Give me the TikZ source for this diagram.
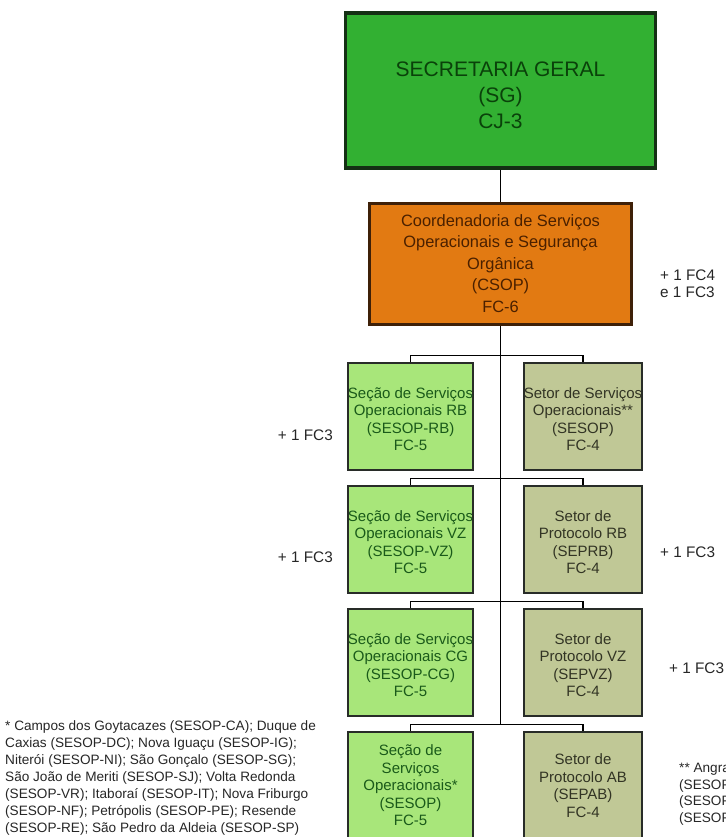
\documentclass[tikz,border=0pt]{standalone}
\usepackage{fontspec}
\setmainfont{Liberation Sans}
\definecolor{sgfill}{RGB}{50,176,50}
\definecolor{sgline}{RGB}{20,48,20}
\definecolor{sgtext}{RGB}{10,66,10}
\definecolor{cofill}{RGB}{226,122,18}
\definecolor{coline}{RGB}{62,32,8}
\definecolor{cotext}{RGB}{74,32,0}
\definecolor{lgfill}{RGB}{168,230,122}
\definecolor{lgtext}{RGB}{26,90,26}
\definecolor{olfill}{RGB}{192,200,150}
\definecolor{oltext}{RGB}{50,52,36}
\definecolor{boxline}{RGB}{40,44,40}
\begin{document}
\begin{tikzpicture}[x=1pt,y=-1pt,
  box/.style={draw, inner sep=0pt, align=center},
  sgbox/.style={box, fill=sgfill, draw=sgline, line width=3.2pt, text=sgtext,
    minimum width=310pt, minimum height=155pt,
    font=\fontsize{21}{26}\selectfont},
  cobox/.style={box, fill=cofill, draw=coline, line width=3pt, text=cotext,
    minimum width=262pt, minimum height=121pt,
    font=\fontsize{16.4}{21.5}\selectfont},
  secbox/.style={box, fill=lgfill, draw=boxline, line width=1.8pt, text=lgtext,
    minimum width=125pt, minimum height=107pt,
    font=\fontsize{15}{17.5}\selectfont},
  setbox/.style={box, fill=olfill, draw=boxline, line width=1.8pt, text=oltext,
    minimum width=118pt, minimum height=107pt,
    font=\fontsize{15}{17.5}\selectfont},
  side/.style={inner sep=0pt, text=black!85, align=left,
    font=\fontsize{15.3}{17}\selectfont},
  note/.style={inner sep=0pt, text=black!85, align=left,
    font=\fontsize{13.6}{17}\selectfont},
  wire/.style={draw=black, line width=1.5pt}]
\useasboundingbox (0,0) rectangle (725,837);
\clip (0,0) rectangle (725,837);

% top levels
\node[sgbox] (SG) at (500.5,90.5)
  {\rule{0pt}{25pt}SECRETARIA GERAL\\(SG)\\CJ-3};
\node[cobox] (CSOP) at (500.5,263.5)
  {Coordenadoria de Serviços\\Operacionais e Segurança\\Orgânica\\(CSOP)\\FC-6};
\node[side, anchor=west] (xco) at (660,284)
  {+ 1 FC4\\e 1 FC3};

% junction points on the trunk
\coordinate (b1) at (500.5,355.5);
\coordinate (b2) at (500.5,478.5);
\coordinate (b3) at (500.5,601.5);
\coordinate (b4) at (500.5,724.5);

% rows of sections and sectors
\node[secbox] (L1) at (410.5,416.5)
  {\rule{0pt}{16pt}Seção de Serviços\\Operacionais RB\\(SESOP-RB)\\FC-5};
\node[setbox] (R1) at (583,416.5)
  {\rule{0pt}{16pt}Setor de Serviços\\Operacionais**\\(SESOP)\\FC-4};
\node[secbox] (L2) at (410.5,539.5)
  {\rule{0pt}{16pt}Seção de Serviços\\Operacionais VZ\\(SESOP-VZ)\\FC-5};
\node[setbox] (R2) at (583,539.5)
  {\rule{0pt}{16pt}Setor de\\Protocolo RB\\(SEPRB)\\FC-4};
\node[secbox] (L3) at (410.5,662.5)
  {\rule{0pt}{16pt}Seção de Serviços\\Operacionais CG\\(SESOP-CG)\\FC-5};
\node[setbox] (R3) at (583,662.5)
  {\rule{0pt}{16pt}Setor de\\Protocolo VZ\\(SEPVZ)\\FC-4};
\node[secbox] (L4) at (410.5,785.5)
  {Seção de\\Serviços\\Operacionais*\\(SESOP)\\FC-5};
\node[setbox] (R4) at (583,785.5)
  {Setor de\\Protocolo AB\\(SEPAB)\\FC-4};

% extra positions beside the boxes
\node[side, anchor=east] (x1) at (333,435) {+ 1 FC3};
\node[side, anchor=east] (x2) at (333,557) {+ 1 FC3};
\node[side, anchor=west] (x3) at (660,552) {+ 1 FC3};
\node[side, anchor=west] (x4) at (669,668) {+ 1 FC3};

% connectors
\draw[wire] (SG.south) -- (CSOP.north);
\draw[wire] (CSOP.south) -- (b4);
\foreach \k in {1,2,3,4}{
  \draw[wire] (L\k.north) |- (b\k) -| (R\k.north);
}

% footnotes
\node[note, anchor=north west] (n1) at (5,720)
  {* Campos dos Goytacazes (SESOP-CA); Duque de\\
   Caxias (SESOP-DC); Nova Iguaçu (SESOP-IG);\\
   Niterói (SESOP-NI); São Gonçalo (SESOP-SG);\\
   São João de Meriti (SESOP-SJ); Volta Redonda\\
   (SESOP-VR); Itaboraí (SESOP-IT); Nova Friburgo\\
   (SESOP-NF); Petrópolis (SESOP-PE); Resende\\
   (SESOP-RE); São Pedro da Aldeia (SESOP-SP)};
\node[note, anchor=north west, font=\fontsize{13.6}{16.5}\selectfont] (n2) at (679,763)
  {** Angra\\(SESOP\\(SESOP\\(SESOP};
\end{tikzpicture}
\end{document}
